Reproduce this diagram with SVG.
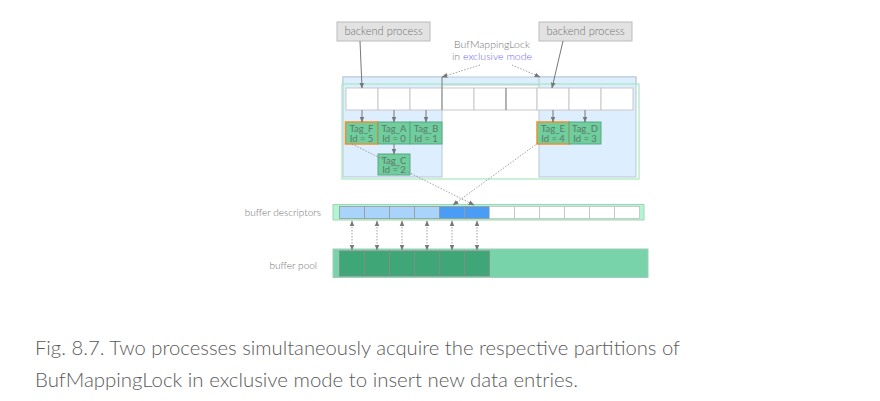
<svg xmlns="http://www.w3.org/2000/svg" width="880" height="401" viewBox="0 0 880 401">
<defs>
<marker id="ah" viewBox="0 0 10 10" refX="9" refY="5" markerWidth="6" markerHeight="6" orient="auto-start-reverse" markerUnits="userSpaceOnUse">
<path d="M0,1 L10,5 L0,9 z" fill="#777"/>
</marker>
<style>
.t{font-family:"Lato","Open Sans","Liberation Sans",sans-serif;font-weight:300;fill:#737373}
.bp{fill:#e2e2e2;stroke:#bcbcbc;stroke-width:1}
.blue{fill:#ddeeff;stroke:#b9c7d6;stroke-width:1}
.cell{fill:#fff;stroke:#c8c8c8;stroke-width:1}
.tag{fill:#6fcd9e;stroke:#5aa882;stroke-width:1}
.tagsel{fill:#6fcd9e;stroke:#f0902a;stroke-width:1.5}
.tt{font-family:"Lato","Open Sans","Liberation Sans",sans-serif;font-size:9.5px;fill:#5b7a68;text-anchor:middle}
.ln{stroke:#777;stroke-width:1;fill:none}
.dot{stroke:#888;stroke-width:0.8;fill:none;stroke-dasharray:1.5 1.5}
.dcl{fill:#a9d3fa;stroke:#999;stroke-width:0.8}
.dcd{fill:#4a9cf5;stroke:#999;stroke-width:0.8}
.dcw{fill:#fff;stroke:#c0c0c0;stroke-width:0.8}
.pc{fill:#3ea677;stroke:#8a8a8a;stroke-width:0.8}
</style>
</defs>
<rect width="880" height="401" fill="#fff"/>

<g id="partition-regions">
<rect class="blue" x="343" y="77" width="293" height="8"/>
<rect class="blue" x="343" y="77" width="99" height="100"/>
<rect class="blue" x="539" y="77" width="97" height="100"/>
<rect x="342" y="84" width="297" height="95" fill="none" stroke="#a6e8bf" stroke-width="1.2"/>
</g>

<g id="hash-slots">
<rect class="cell" x="346" y="88" width="32" height="22"/>
<rect class="cell" x="378" y="88" width="32" height="22"/>
<rect class="cell" x="410" y="88" width="32" height="22"/>
<rect class="cell" x="442" y="88" width="32" height="22"/>
<rect class="cell" x="474" y="88" width="32" height="22"/>
<rect class="cell" x="506" y="88" width="31" height="22"/>
<rect class="cell" x="537" y="88" width="32" height="22"/>
<rect class="cell" x="569" y="88" width="32" height="22"/>
<rect class="cell" x="601" y="88" width="32" height="22"/>
<line x1="442" y1="77" x2="442" y2="110" stroke="#8a8a8a" stroke-width="1"/>
<line x1="506" y1="88" x2="506" y2="110" stroke="#8a8a8a" stroke-width="1"/>
</g>

<g id="backend-left">
<rect class="bp" x="337" y="22" width="93" height="19"/>
<text class="t" x="383.5" y="35" font-size="11" text-anchor="middle">backend process</text>
</g>
<g id="backend-right">
<rect class="bp" x="539" y="22" width="93" height="19"/>
<text class="t" x="585.5" y="35" font-size="11" text-anchor="middle">backend process</text>
</g>

<g id="lock-label">
<text class="t" x="492" y="47.5" font-size="10.5" text-anchor="middle">BufMappingLock</text>
<text class="t" x="492" y="60" font-size="10.5" text-anchor="middle">in <tspan fill="#6a6af0">exclusive mode</tspan></text>
</g>

<g id="tag-F"><rect class="tagsel" x="345.5" y="122" width="32" height="22"/><text class="tt" x="361.5" y="131.5">Tag_F</text><text class="tt" x="361.5" y="141.5">Id = 5</text></g>
<g id="tag-A"><rect class="tag" x="378" y="122" width="32" height="22"/><text class="tt" x="394" y="131.5">Tag_A</text><text class="tt" x="394" y="141.5">Id = 0</text></g>
<g id="tag-B"><rect class="tag" x="410" y="122" width="32" height="22"/><text class="tt" x="426" y="131.5">Tag_B</text><text class="tt" x="426" y="141.5">Id = 1</text></g>
<g id="tag-C"><rect class="tag" x="378" y="154" width="32" height="21"/><text class="tt" x="394" y="163.5">Tag_C</text><text class="tt" x="394" y="173">Id = 2</text></g>
<g id="tag-E"><rect class="tagsel" x="537" y="122" width="32" height="22"/><text class="tt" x="553" y="131.5">Tag_E</text><text class="tt" x="553" y="141.5">Id = 4</text></g>
<g id="tag-D"><rect class="tag" x="569" y="122" width="32" height="22"/><text class="tt" x="585" y="131.5">Tag_D</text><text class="tt" x="585" y="141.5">Id = 3</text></g>

<g id="buffer-descriptors">
<text class="t" x="321" y="215.5" font-size="10" text-anchor="end">buffer descriptors</text>
<rect x="333" y="204.5" width="311" height="15.5" fill="#b2f5d2" stroke="#9fd6b7" stroke-width="1"/>
<rect class="dcl" x="339.5" y="206.5" width="25" height="12"/>
<rect class="dcl" x="364.5" y="206.5" width="25" height="12"/>
<rect class="dcl" x="389.5" y="206.5" width="25" height="12"/>
<rect class="dcl" x="414.5" y="206.5" width="25" height="12"/>
<rect class="dcd" x="439.5" y="206.5" width="25" height="12"/>
<rect class="dcd" x="464.5" y="206.5" width="25" height="12"/>
<rect class="dcw" x="489.5" y="206.5" width="25" height="12"/>
<rect class="dcw" x="514.5" y="206.5" width="25" height="12"/>
<rect class="dcw" x="539.5" y="206.5" width="25" height="12"/>
<rect class="dcw" x="564.5" y="206.5" width="25" height="12"/>
<rect class="dcw" x="589.5" y="206.5" width="25" height="12"/>
<rect class="dcw" x="614.5" y="206.5" width="25" height="12"/>
</g>

<g id="buffer-pool">
<text class="t" x="317" y="268.5" font-size="10" text-anchor="end">buffer pool</text>
<rect x="333" y="249" width="315" height="28.5" fill="#78d2aa" stroke="#9fcfb6" stroke-width="1"/>
<rect class="pc" x="339.5" y="251" width="25" height="25"/>
<rect class="pc" x="364.5" y="251" width="25" height="25"/>
<rect class="pc" x="389.5" y="251" width="25" height="25"/>
<rect class="pc" x="414.5" y="251" width="25" height="25"/>
<rect class="pc" x="439.5" y="251" width="25" height="25"/>
<rect class="pc" x="464.5" y="251" width="25" height="25"/>
</g>

<g id="connectors">
<line class="ln" x1="360" y1="41" x2="362" y2="88" marker-end="url(#ah)"/>
<line class="ln" x1="563" y1="41" x2="552" y2="88" marker-end="url(#ah)"/>
<line class="dot" x1="480" y1="65" x2="442" y2="77" marker-end="url(#ah)"/>
<line class="dot" x1="512" y1="65" x2="540" y2="77" marker-end="url(#ah)"/>
<line class="ln" x1="362" y1="110" x2="362" y2="122" marker-end="url(#ah)"/>
<line class="ln" x1="394" y1="110" x2="394" y2="122" marker-end="url(#ah)"/>
<line class="ln" x1="426" y1="110" x2="426" y2="122" marker-end="url(#ah)"/>
<line class="ln" x1="553" y1="110" x2="553" y2="122" marker-end="url(#ah)"/>
<line class="ln" x1="585" y1="110" x2="585" y2="122" marker-end="url(#ah)"/>
<line class="ln" x1="394" y1="144" x2="394" y2="154" marker-end="url(#ah)"/>
<line class="dot" x1="352" y1="144" x2="474" y2="205" marker-end="url(#ah)"/>
<line class="dot" x1="538" y1="143" x2="453" y2="205" marker-end="url(#ah)"/>
<line class="dot" x1="352" y1="221" x2="352" y2="250" marker-start="url(#ah)" marker-end="url(#ah)"/>
<line class="dot" x1="377" y1="221" x2="377" y2="250" marker-start="url(#ah)" marker-end="url(#ah)"/>
<line class="dot" x1="402" y1="221" x2="402" y2="250" marker-start="url(#ah)" marker-end="url(#ah)"/>
<line class="dot" x1="427" y1="221" x2="427" y2="250" marker-start="url(#ah)" marker-end="url(#ah)"/>
<line class="dot" x1="452" y1="221" x2="452" y2="250" marker-start="url(#ah)" marker-end="url(#ah)"/>
<line class="dot" x1="477" y1="221" x2="477" y2="250" marker-start="url(#ah)" marker-end="url(#ah)"/>
</g>

<g id="caption">
<text class="t" x="35" y="355" font-size="19" style="fill:#5a5a5a" textLength="645" lengthAdjust="spacingAndGlyphs">Fig. 8.7. Two processes simultaneously acquire the respective partitions of</text>
<text class="t" x="35" y="387" font-size="19" style="fill:#5a5a5a" textLength="543" lengthAdjust="spacingAndGlyphs">BufMappingLock in exclusive mode to insert new data entries.</text>
</g>
</svg>
